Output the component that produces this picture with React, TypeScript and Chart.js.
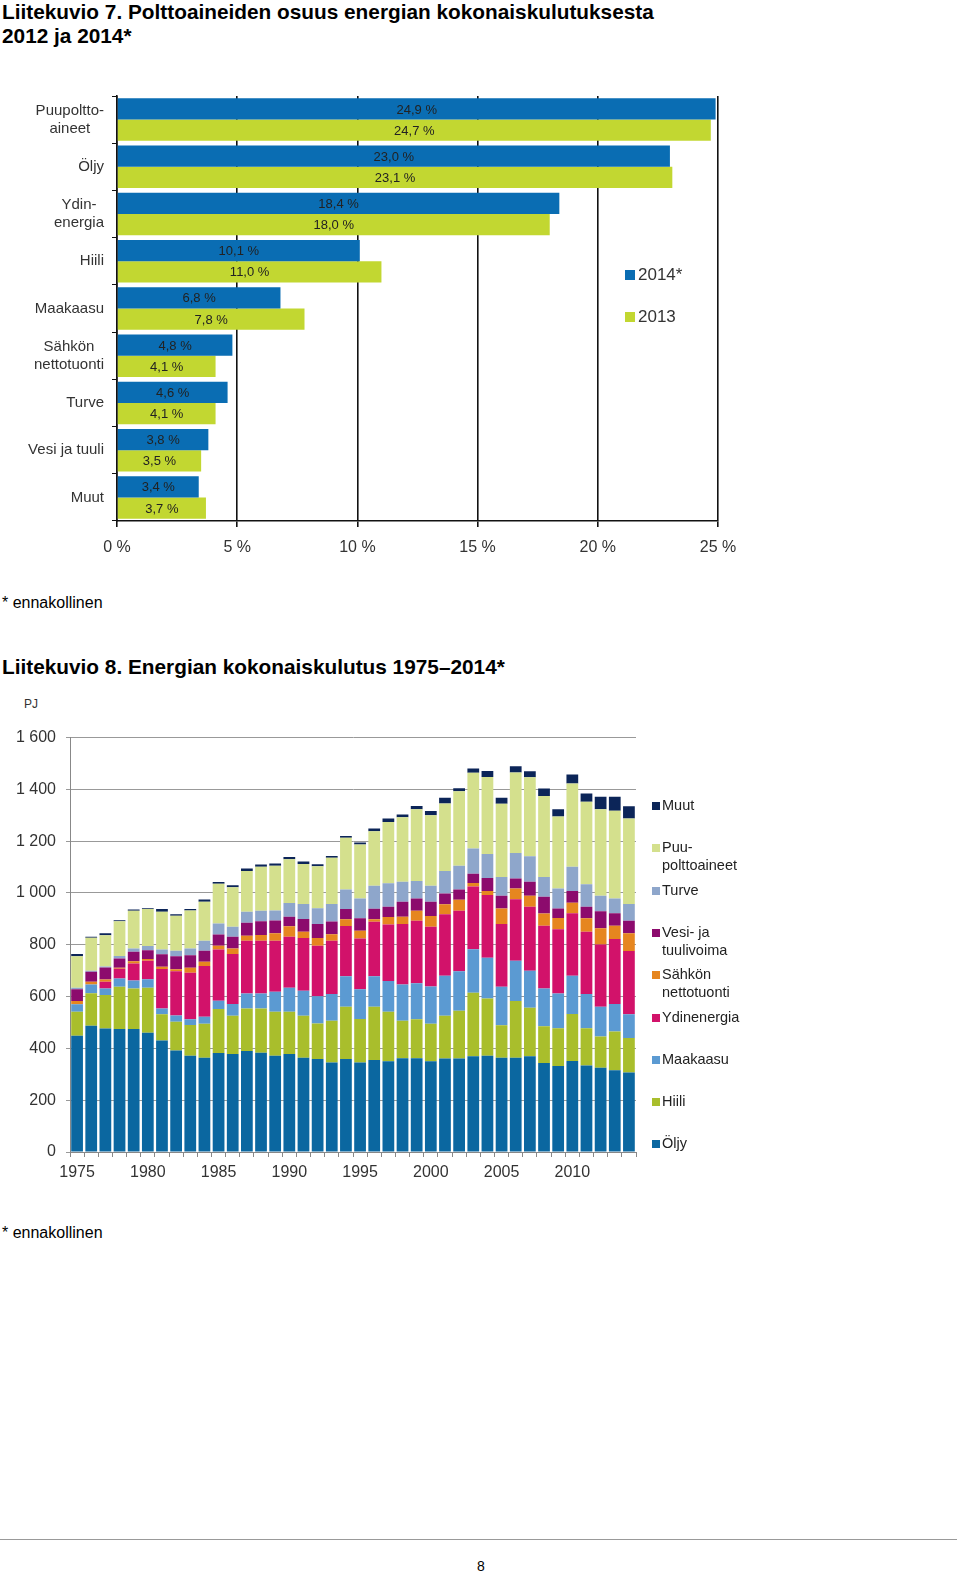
import React, { useEffect, useRef } from 'react';
import { Chart, registerables } from 'chart.js';

Chart.register(...registerables);

const FONT = '"Liberation Sans", Arial, Helvetica, sans-serif';

// ---------- Chart 1: shares of fuels ----------
const fuelCategories: (string | string[])[] = [
  ['Puupoltto-', 'aineet'],
  'Öljy',
  ['Ydin-', 'energia'],
  'Hiili',
  'Maakaasu',
  ['Sähkön', 'nettotuonti'],
  'Turve',
  'Vesi ja tuuli',
  'Muut',
];
const share2014 = [24.9, 23.0, 18.4, 10.1, 6.8, 4.8, 4.6, 3.8, 3.4];
const share2013 = [24.7, 23.1, 18.0, 11.0, 7.8, 4.1, 4.1, 3.5, 3.7];
const shareSeriesNames = ['2014*', '2013'];
const shareColors = ['#0A6DB3', '#C2D731'];
const shareTicks = [0, 5, 10, 15, 20, 25];

// ---------- Chart 2: total energy consumption (PJ) ----------
const years = [
  '1975', '1976', '1977', '1978', '1979', '1980', '1981', '1982', '1983', '1984',
  '1985', '1986', '1987', '1988', '1989', '1990', '1991', '1992', '1993', '1994',
  '1995', '1996', '1997', '1998', '1999', '2000', '2001', '2002', '2003', '2004',
  '2005', '2006', '2007', '2008', '2009', '2010', '2011', '2012', '2013', '2014',
];
const oljy = [449, 487, 477, 475, 475, 460, 430, 392, 372, 364, 382, 378, 390, 383, 372, 378, 364, 359, 345, 359, 345, 355, 350, 362, 362, 350, 361, 361, 370, 372, 364, 364, 370, 344, 332, 351, 334, 325, 316, 307];
const hiili = [92, 126, 129, 163, 156, 174, 102, 111, 118, 131, 170, 148, 164, 171, 169, 163, 162, 137, 162, 202, 168, 206, 191, 145, 150, 145, 165, 184, 245, 221, 125, 219, 187, 141, 146, 182, 144, 121, 149, 133];
const maakaasu = [29, 34, 25, 32, 31, 33, 22, 24, 22, 27, 32, 45, 58, 58, 78, 93, 96, 105, 103, 117, 115, 117, 119, 140, 139, 144, 154, 153, 168, 157, 149, 155, 143, 146, 134, 147, 132, 115, 106, 92];
const ydinenergia = [0, 0, 26, 37, 66, 71, 152, 171, 180, 196, 198, 193, 203, 203, 196, 197, 204, 195, 205, 194, 196, 211, 218, 233, 242, 230, 238, 233, 242, 242, 242, 238, 247, 242, 248, 242, 240, 240, 251, 244];
const sahkonTuonti = [13, 10, 9, 4, 8, 7, 9, 7, 19, 16, 14, 22, 20, 23, 29, 40, 24, 30, 26, 26, 30, 9, 29, 28, 38, 42, 38, 43, 13, 15, 60, 41, 42, 48, 43, 40, 52, 63, 51, 68];
const vesiTuuli = [45, 39, 46, 36, 37, 34, 48, 51, 48, 43, 44, 45, 50, 53, 50, 37, 49, 54, 49, 40, 48, 41, 40, 58, 48, 55, 42, 39, 36, 51, 49, 39, 54, 64, 37, 45, 45, 65, 49, 49];
const turve = [6, 4, 4, 10, 13, 16, 19, 21, 27, 38, 42, 38, 42, 40, 38, 53, 58, 61, 67, 75, 77, 89, 90, 77, 67, 62, 87, 92, 98, 92, 73, 98, 99, 77, 77, 94, 87, 60, 57, 64];
const puu = [122, 127, 121, 134, 145, 143, 145, 135, 146, 151, 153, 153, 158, 170, 173, 169, 155, 162, 179, 200, 208, 210, 237, 249, 277, 272, 260, 288, 292, 298, 282, 311, 305, 312, 278, 321, 318, 334, 338, 330];
const muut = [8, 4, 7, 4, 5, 3, 11, 6, 6, 9, 7, 8, 9, 9, 9, 9, 9, 8, 7, 7, 8, 11, 13, 11, 13, 16, 22, 11, 16, 23, 23, 24, 23, 29, 28, 35, 32, 48, 54, 48];
const yTicksPJ = [0, 200, 400, 600, 800, 1000, 1200, 1400, 1600];

const energySeries = [
  { name: 'Öljy', data: oljy, color: '#0B67A0' },
  { name: 'Hiili', data: hiili, color: '#A9BE2C' },
  { name: 'Maakaasu', data: maakaasu, color: '#5B9AD2' },
  { name: 'Ydinenergia', data: ydinenergia, color: '#D2126A' },
  { name: 'Sähkön nettotuonti', data: sahkonTuonti, color: '#E6861F' },
  { name: 'Vesi- ja tuulivoima', data: vesiTuuli, color: '#8C0B6D' },
  { name: 'Turve', data: turve, color: '#8EA6CB' },
  { name: 'Puupolttoaineet', data: puu, color: '#D4E08D' },
  { name: 'Muut', data: muut, color: '#0C2558' },
];

const legend2Items: { lines: string[]; series: string; y: number }[] = [
  { lines: ['Muut'], series: 'Muut', y: 806 },
  { lines: ['Puu-', 'polttoaineet'], series: 'Puupolttoaineet', y: 848 },
  { lines: ['Turve'], series: 'Turve', y: 891 },
  { lines: ['Vesi- ja', 'tuulivoima'], series: 'Vesi- ja tuulivoima', y: 933 },
  { lines: ['Sähkön', 'nettotuonti'], series: 'Sähkön nettotuonti', y: 975 },
  { lines: ['Ydinenergia'], series: 'Ydinenergia', y: 1018 },
  { lines: ['Maakaasu'], series: 'Maakaasu', y: 1060 },
  { lines: ['Hiili'], series: 'Hiili', y: 1102 },
  { lines: ['Öljy'], series: 'Öljy', y: 1144 },
];

const fmtPct = (v: number) => v.toFixed(1).replace('.', ',') + ' %';
const fmtThousands = (v: number) => {
  const s = String(v);
  return s.length > 3 ? s.slice(0, -3) + ' ' + s.slice(-3) : s;
};

const barLabelPlugin = {
  id: 'barLabels',
  afterDatasetsDraw(chart: any) {
    const ctx = chart.ctx;
    ctx.save();
    ctx.font = `13px ${FONT}`;
    ctx.fillStyle = '#222';
    ctx.textAlign = 'center';
    ctx.textBaseline = 'middle';
    chart.data.datasets.forEach((ds: any, i: number) => {
      chart.getDatasetMeta(i).data.forEach((bar: any, j: number) => {
        const p = bar.getProps(['x', 'y', 'base'], true);
        ctx.fillText(fmtPct(ds.data[j]), (p.x + p.base) / 2, p.y + 1);
      });
    });
    ctx.restore();
  },
};

// Category labels: each block right-aligned at the axis, lines centred within the block
const categoryLabelPlugin = {
  id: 'categoryLabels',
  afterDraw(chart: any) {
    const ctx = chart.ctx;
    const scale = chart.scales.y;
    const lineH = 18;
    const rightEdge = scale.right - 13;
    ctx.save();
    ctx.font = `15px ${FONT}`;
    ctx.fillStyle = '#333';
    ctx.textAlign = 'center';
    ctx.textBaseline = 'middle';
    (chart.data.labels as any[]).forEach((lab: any, i: number) => {
      const lines: string[] = Array.isArray(lab) ? lab : [lab];
      const w = Math.max(...lines.map((l) => ctx.measureText(l).width));
      const cx = rightEdge - w / 2;
      const cy = scale.getPixelForTick(i);
      lines.forEach((l, k) => {
        ctx.fillText(l, cx, cy + (k - (lines.length - 1) / 2) * lineH);
      });
    });
    ctx.restore();
  },
};

function ShareChart() {
  const ref = useRef<HTMLCanvasElement>(null);
  useEffect(() => {
    if (!ref.current) return;
    const chart = new Chart(ref.current, {
      type: 'bar',
      data: {
        labels: fuelCategories as any,
        datasets: [
          { label: shareSeriesNames[0], data: share2014, backgroundColor: shareColors[0] },
          { label: shareSeriesNames[1], data: share2013, backgroundColor: shareColors[1] },
        ],
      },
      options: {
        indexAxis: 'y',
        responsive: false,
        animation: false,
        events: [],
        layout: { padding: { top: 11, right: 42, left: 0, bottom: 0 } },
        datasets: { bar: { categoryPercentage: 0.9, barPercentage: 1.0 } },
        plugins: { legend: { display: false }, tooltip: { enabled: false } },
        scales: {
          x: {
            min: 0,
            max: 25,
            afterBuildTicks: (s: any) => {
              s.ticks = shareTicks.map((v) => ({ value: v }));
            },
            afterFit: (s: any) => {
              s.height = 44;
              s.paddingLeft = 0;
              s.paddingRight = 0;
            },
            grid: { color: '#111', lineWidth: 1.6, tickLength: 6 },
            border: { color: '#111', width: 1.6 },
            ticks: {
              callback: (v: any) => v + ' %',
              font: { family: FONT, size: 16 },
              color: '#333',
              padding: 11,
              maxRotation: 0,
            },
          },
          y: {
            afterFit: (s: any) => {
              s.width = 117;
              s.paddingTop = 0;
              s.paddingBottom = 0;
            },
            grid: { drawOnChartArea: false, tickLength: 5, color: '#111', offset: true },
            border: { color: '#111', width: 1.6 },
            ticks: { display: false },
          },
        },
      },
      plugins: [barLabelPlugin, categoryLabelPlugin],
    } as any);
    return () => chart.destroy();
  }, []);
  return <canvas ref={ref} width={760} height={480} style={{ position: 'absolute', left: 0, top: 85 }} />;
}

function EnergyChart() {
  const ref = useRef<HTMLCanvasElement>(null);
  useEffect(() => {
    if (!ref.current) return;
    const chart = new Chart(ref.current, {
      type: 'bar',
      data: {
        labels: years,
        datasets: energySeries.map((s) => ({
          label: s.name,
          data: s.data,
          backgroundColor: s.color,
          borderWidth: 0,
        })),
      },
      options: {
        responsive: false,
        animation: false,
        events: [],
        layout: { padding: { top: 47.5, right: 124, left: 0, bottom: 0 } },
        datasets: { bar: { categoryPercentage: 1.0, barPercentage: 0.83 } },
        plugins: { legend: { display: false }, tooltip: { enabled: false } },
        scales: {
          x: {
            stacked: true,
            afterFit: (s: any) => {
              s.height = 38;
              s.paddingLeft = 0;
              s.paddingRight = 0;
            },
            grid: { drawOnChartArea: false, tickLength: 5, color: '#888', offset: true },
            border: { color: '#888', width: 1 },
            ticks: {
              autoSkip: false,
              maxRotation: 0,
              minRotation: 0,
              padding: 6,
              font: { family: FONT, size: 16 },
              color: '#333',
              callback: (_v: any, i: number) => (Number(years[i]) % 5 === 0 ? years[i] : ''),
            },
          },
          y: {
            stacked: true,
            min: 0,
            max: 1600,
            afterBuildTicks: (s: any) => {
              s.ticks = yTicksPJ.map((v) => ({ value: v }));
            },
            afterFit: (s: any) => {
              s.width = 70;
              s.paddingTop = 0;
              s.paddingBottom = 0;
            },
            grid: { color: '#999', lineWidth: 1, tickLength: 4 },
            border: { color: '#888', width: 1 },
            ticks: {
              callback: (v: any) => fmtThousands(Number(v)),
              font: { family: FONT, size: 16 },
              color: '#333',
              padding: 10,
            },
          },
        },
      },
    } as any);
    return () => chart.destroy();
  }, []);
  return <canvas ref={ref} width={760} height={500} style={{ position: 'absolute', left: 0, top: 690 }} />;
}

const txt = (extra: React.CSSProperties): React.CSSProperties => ({
  position: 'absolute',
  fontFamily: FONT,
  color: '#000',
  whiteSpace: 'nowrap',
  margin: 0,
  ...extra,
});

export default function App() {
  const colorOf = (name: string) => energySeries.find((s) => s.name === name)!.color;
  return (
    <div style={{ position: 'absolute', left: 0, top: 0, width: 960, height: 1572, background: '#fff', overflow: 'hidden' }}>
      <div style={txt({ left: 2, top: 0, fontSize: 20.8, fontWeight: 'bold', lineHeight: '24px' })}>
        Liitekuvio 7. Polttoaineiden osuus energian kokonaiskulutuksesta
        <br />
        2012 ja 2014*
      </div>
      <ShareChart />
      {shareSeriesNames.map((n, i) => (
        <React.Fragment key={n}>
          <div style={{ position: 'absolute', left: 625, top: 270 + i * 42, width: 10, height: 10, background: shareColors[i] }} />
          <div style={txt({ left: 638, top: 265 + i * 42, fontSize: 17, lineHeight: '20px', color: '#333' })}>{n}</div>
        </React.Fragment>
      ))}
      <div style={txt({ left: 2, top: 594, fontSize: 16, lineHeight: '18px' })}>* ennakollinen</div>

      <div style={txt({ left: 2, top: 655, fontSize: 20.8, fontWeight: 'bold', lineHeight: '24px' })}>
        Liitekuvio 8. Energian kokonaiskulutus 1975–2014*
      </div>
      <div style={txt({ left: 24, top: 697, fontSize: 12, lineHeight: '14px', color: '#333' })}>PJ</div>
      <EnergyChart />
      {legend2Items.map((it) => (
        <React.Fragment key={it.series}>
          <div style={{ position: 'absolute', left: 652, top: it.y - 4, width: 8, height: 8, background: colorOf(it.series) }} />
          <div style={txt({ left: 662, top: it.y - 9, fontSize: 14.5, lineHeight: '17.5px', color: '#222' })}>
            {it.lines.map((l, k) => (
              <div key={k}>{l}</div>
            ))}
          </div>
        </React.Fragment>
      ))}
      <div style={txt({ left: 2, top: 1224, fontSize: 16, lineHeight: '18px' })}>* ennakollinen</div>

      <div style={{ position: 'absolute', left: 0, top: 1539, width: 957, height: 1, background: '#999' }} />
      <div style={txt({ left: 477, top: 1558, fontSize: 14, lineHeight: '16px' })}>8</div>
    </div>
  );
}
